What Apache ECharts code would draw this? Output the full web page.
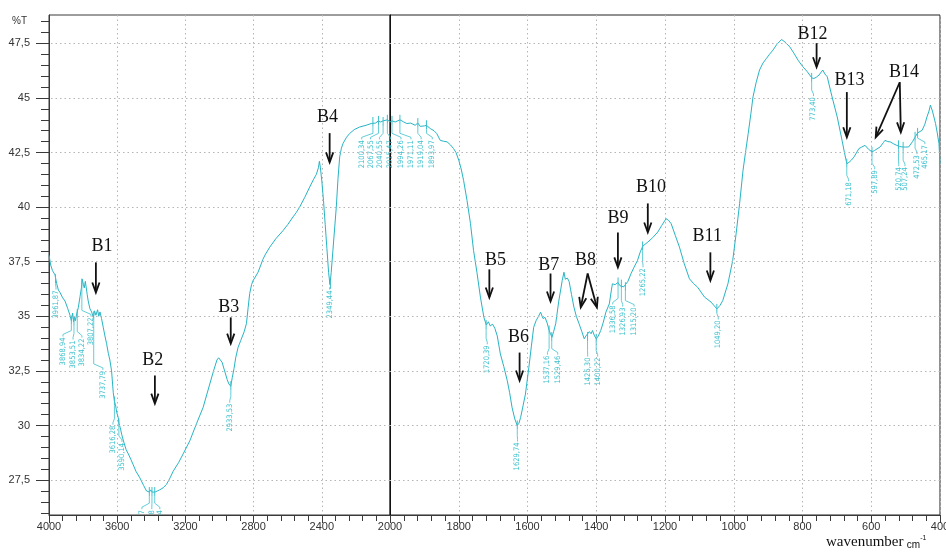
<!DOCTYPE html>
<html><head><meta charset="utf-8">
<script src="https://cdn.jsdelivr.net/npm/echarts@6/dist/echarts.min.js"></script>
<style>html,body{margin:0;padding:0;background:#fff}#c{width:946px;height:552px}</style>
</head><body><div id="c"></div><script>
// ---- spectrum 4000-2000 cm-1 (left panel) ----
const wnLeft = [4000,3990,3980,3965,3955,3945,3936,3920,3906,3890,3877,3869,3861,3856,3850,3845,3838,3828,3818,3810,3805,3798,3793,3787,3783,3776,3770,3760,3750,3740,3733,3725,3715,3708,3701,3692,3682,3672,3662,3652,3643,3633,3623,3616,3610,3603,3594,3590,3582,3574,3560,3548,3535,3520,3506,3490,3467,3445,3428,3411,3404,3395,3385,3378,3365,3351,3330,3311,3290,3272,3240,3213,3174,3135,3096,3057,3035,3015,3005,2995,2985,2970,2955,2945,2934,2925,2915,2905,2891,2875,2855,2842,2832,2823,2812,2803,2790,2774,2760,2746,2730,2705,2670,2627,2600,2569,2550,2530,2500,2471,2450,2432,2420,2414,2408,2400,2390,2380,2370,2360,2352,2345,2335,2325,2315,2305,2295,2285,2276,2255,2237,2210,2178,2140,2110,2100,2085,2068,2055,2041,2030,2015,2000];
const tLeft = [37.8,37.35,37.1,36.9,36.5,36.2,36.1,35.85,35.7,35.35,35.05,34.8,35.15,34.75,34.95,34.8,35.1,35.4,35.9,36.3,36.7,36.45,36.3,36.6,36.55,36.0,35.7,35.35,35.2,34.95,35.25,35.05,35.3,35.0,35.2,34.9,34.5,34.1,33.74,33.3,33.0,32.5,31.5,31.1,30.95,30.6,30.37,30.1,29.9,29.6,29.2,28.9,28.7,28.45,28.2,27.9,27.6,27.25,27.0,26.95,27.05,26.95,27.0,26.95,27.0,27.05,27.15,27.3,27.6,27.9,28.3,28.7,29.3,30.08,30.83,31.9,32.5,33.0,33.1,33.0,32.9,32.5,32.1,31.9,31.8,32.2,32.6,33.1,33.58,33.9,34.3,34.67,35.4,36.04,36.45,36.64,36.8,37.02,37.3,37.6,37.85,38.17,38.55,38.93,39.2,39.55,39.75,40.0,40.45,40.92,41.25,41.5,41.8,42.1,41.8,41.2,40.3,39.2,38.1,37.0,36.45,37.0,38.0,39.0,40.0,41.3,42.3,42.7,42.91,43.2,43.37,43.55,43.67,43.75,43.83,43.9,43.85,43.95,43.9,43.95,43.9,44.0,43.9];
// ---- spectrum 2000-400 cm-1 (right panel) ----
const wnRight = [2000,1994,1985,1971,1960,1951,1940,1927,1919,1912,1900,1894,1883,1872,1864,1854,1845,1834,1824,1815,1808,1800,1793,1786,1776,1766,1757,1747,1737,1727,1720,1714,1708,1702,1695,1688,1679,1669,1659,1652,1645,1637,1630,1625,1620,1613,1606,1596,1589,1582,1575,1568,1562,1555,1549,1543,1537,1533,1529,1524,1518,1509,1499,1494,1490,1484,1479,1472,1465,1458,1450,1442,1435,1430,1426,1420,1415,1411,1405,1400,1394,1387,1380,1372,1362,1356,1353,1345,1337,1331,1327,1320,1315,1308,1299,1290,1280,1272,1265,1258,1250,1236,1221,1210,1197,1190,1182,1170,1158,1144,1129,1117,1105,1085,1066,1049,1040,1032,1017,1003,993,983,973,965,958,950,944,935,925,915,905,896,886,875,861,850,837,825,813,800,786,773,767,760,752,741,735,728,721,714,699,685,678,671,665,658,650,636,628,618,608,598,590,574,565,560,552,545,535,526,518,511,500,491,480,472,465,452,444,438,432,428,422,413,408,403,400];
const tRight = [43.9,43.95,43.9,44.0,43.9,43.83,43.85,43.75,43.85,43.7,43.72,43.75,43.6,43.5,43.37,43.06,43.02,42.99,42.85,42.68,42.5,42.15,41.75,41.23,40.31,39.26,38.02,37.0,35.88,34.96,34.6,34.75,34.55,34.65,34.45,34.1,33.28,32.7,32.06,31.5,30.83,30.3,30.0,30.1,30.37,30.9,31.44,32.67,33.6,34.5,34.8,35.0,35.19,34.9,34.95,34.7,34.35,34.2,34.04,34.3,34.66,35.7,36.64,37.02,36.7,36.75,36.6,36.0,35.42,35.0,34.66,34.3,33.97,34.1,34.05,34.3,34.2,34.35,34.1,33.97,34.1,34.35,34.7,35.19,35.57,36.2,36.49,36.45,36.55,36.4,36.45,36.35,36.33,36.6,36.95,37.25,37.56,37.95,38.2,38.3,38.4,38.6,38.86,39.15,39.47,39.4,39.24,38.7,38.17,37.41,36.72,36.5,36.33,35.88,35.65,35.34,35.5,35.72,36.49,37.56,38.8,40.16,41.69,42.6,43.37,44.3,45.05,45.7,46.28,46.6,46.81,47.0,47.19,47.45,47.68,47.55,47.34,47.05,46.73,46.45,46.2,45.92,45.89,45.95,46.05,46.28,46.1,45.97,45.5,45.05,44.13,43.06,42.5,41.99,42.05,42.15,42.3,42.68,42.75,42.83,42.65,42.53,42.6,42.76,42.95,43.06,43.0,42.99,42.9,42.83,42.78,42.76,42.75,42.76,43.0,43.22,43.4,43.52,43.8,44.13,44.4,44.67,44.4,43.83,43.4,42.91,42.0];

// ---- axes ----
const yMin = 25.9, yMax = 48.8;
const yTickLabels = [27.5,30,32.5,35,37.5,40,42.5,45,47.5];
const yMinorTicks = [26,26.5,27,28,28.5,29,29.5,30.5,31,31.5,32,33,33.5,34,34.5,35.5,36,36.5,37,38,38.5,39,39.5,40.5,41,41.5,42,43,43.5,44,44.5,45.5,46,46.5,47,48,48.5];
const xLeftTicks = [4000,3600,3200,2800,2400,2000];
const xRightTicks = [2000,1800,1600,1400,1200,1000,800,600,400];

// ---- peak picks (wavenumber, %T at the peak, label anchor wavenumber, label top %T) ----
const peakWn   = [3961.87,3868.94,3853.51,3834.22,3807.22,3737.79,3616.28,3590.14,3411.57,3396.08,3379.84,2933.53,2349.44,2100.34,2067.55,2040.55,2015.47,1994.26,1971.11,1919.04,1893.97,1720.39,1629.74,1537.16,1529.46,1425.30,1400.22,1336.58,1326.93,1315.20,1265.22,1049.20,773.40,671.18,597.89,520.74,507.24,472.53,465.17];
const peakT    = [36.7,34.8,34.75,35.1,36.5,35.0,31.1,30.1,26.95,26.95,26.95,31.8,36.45,43.9,43.95,43.9,44.0,43.95,44.0,43.85,43.75,34.6,30.0,34.35,34.04,34.05,33.97,36.55,36.45,36.33,38.2,35.34,45.92,41.99,42.53,42.83,42.76,43.22,43.4];
const peakLblWn= [3959,3918,3859,3807,3754,3684,3625,3572,3455,3397,3350,2940,2354,2166,2114,2061,1997,1968,1939,1909.5,1877,1717,1629,1542,1512,1425,1396,1352,1323,1290,1264,1045,768,666,590,520,502,467,444];
const peakLblT = [36.18,34.03,33.89,33.98,34.95,32.5,29.99,29.2,26.12,26.12,26.12,31.0,36.18,43.06,43.06,43.06,43.06,43.06,43.06,43.06,43.06,33.67,29.22,33.2,33.2,33.11,33.11,35.5,35.4,35.4,37.2,34.81,45.04,41.14,41.69,41.83,41.83,42.38,42.84];

// ---- band annotations ----
const bandName  = ['B1','B2','B3','B4','B5','B6','B7','B8','B9','B10','B11','B12','B13','B14'];
const bandTxtWn = [3689,3391,2946,2366,1693,1626,1538,1431,1337,1241,1077,771,663,505];
const bandTxtT  = [38.2,32.97,35.42,44.12,37.56,34.03,37.33,37.56,39.49,40.91,38.66,47.93,45.82,46.18];
const arrowFromWn = [3725,3379,2934,2354,1711,1623,1533,1425,1425,1337,1250,1068,759,671,517,517];
const arrowFromT  = [37.47,32.29,34.95,43.39,37.15,33.34,36.96,36.96,36.96,38.84,40.17,37.93,47.51,45.27,45.72,45.72];
const arrowToWn   = [3725,3379,2934,2354,1711,1623,1533,1445,1398,1337,1250,1068,759,671,587,514];
const arrowToT    = [36.09,31.0,33.75,42.05,35.86,32.06,35.68,35.41,35.41,37.24,38.84,36.64,46.41,43.2,43.2,43.43];

const LINE = '#27b4c4', PEAKC = '#3cc0cd', AXC = '#3a3a3a';

const zip = (a, b) => a.map((v, i) => [v, b[i]]);
const fmtWn = v => v.toFixed(2).replace('.', ',');

function peakItems(pred) {
  const out = [];
  peakWn.forEach((w, i) => { if (pred(w, i)) out.push([w, peakT[i], peakLblWn[i], peakLblT[i], i]); });
  return out;
}
function renderPeak(params, api) {
  const i = api.value(4);
  const p = api.coord([api.value(0), api.value(1)]);
  const l = api.coord([api.value(2), api.value(3)]);
  const y0 = p[1] + 4;
  const yb = Math.max(y0, l[1] - 7);
  return { type: 'group', children: [
    { type: 'line', shape: { x1: p[0], y1: p[1] - 5, x2: p[0], y2: p[1] + 4 }, style: { stroke: PEAKC, lineWidth: 1 } },
    { type: 'polyline', shape: { points: [[p[0], y0], [p[0], yb], [l[0], l[1] - 3], [l[0], l[1] - 1]] }, style: { stroke: PEAKC, lineWidth: 0.8, fill: null } },
    { type: 'text', x: l[0], y: l[1], rotation: Math.PI / 2,
      style: { text: fmtWn(peakWn[i]), fill: PEAKC, font: '7.5px "Liberation Sans Narrow","DejaVu Sans Condensed","Liberation Sans",sans-serif', align: 'right', verticalAlign: 'middle' } }
  ]};
}
function arrowEl(a, b) {
  const dx = b[0] - a[0], dy = b[1] - a[1];
  const L = Math.hypot(dx, dy) || 1;
  const ux = dx / L, uy = dy / L, nx = -uy, ny = ux;
  const h = 10, w = 3.6;
  return [
    { type: 'line', shape: { x1: a[0], y1: a[1], x2: b[0] - ux * 1, y2: b[1] - uy * 1 }, style: { stroke: '#111', lineWidth: 1.8 } },
    { type: 'polyline', shape: { points: [[b[0] - ux * h + nx * w, b[1] - uy * h + ny * w], [b[0], b[1]], [b[0] - ux * h - nx * w, b[1] - uy * h - ny * w]] }, style: { stroke: '#111', lineWidth: 1.8, fill: null } }
  ];
}
function bandItems(left) {
  const out = [];
  bandName.forEach((n, i) => { if ((bandTxtWn[i] > 2000) === left) out.push([bandTxtWn[i], bandTxtT[i], i]); });
  return out;
}
function renderBand(params, api) {
  const p = api.coord([api.value(0), api.value(1)]);
  return { type: 'text', x: p[0], y: p[1], style: { text: bandName[api.value(2)], fill: '#111', font: '18px "Liberation Serif","DejaVu Serif",serif', align: 'center', verticalAlign: 'middle' } };
}
function arrowItems(left) {
  const out = [];
  arrowFromWn.forEach((w, i) => { if ((w > 2000) === left) out.push([w, arrowFromT[i], arrowToWn[i], arrowToT[i]]); });
  return out;
}
function renderArrow(params, api) {
  const a = api.coord([api.value(0), api.value(1)]);
  const b = api.coord([api.value(2), api.value(3)]);
  return { type: 'group', children: arrowEl(a, b) };
}

const gridLines = yTickLabels.map(v => ({ yAxis: v }));
const mkGridLines = { silent: true, symbol: 'none', label: { show: false }, lineStyle: { color: '#b5b5b5', type: [1.5, 3], width: 1 }, data: gridLines, animation: false };

function xAxisCfg(idx, min, max, interval, hideMin) {
  return {
    type: 'value', gridIndex: idx, min: min, max: max, interval: interval, inverse: true,
    axisLine: { show: true, onZero: false, lineStyle: { color: AXC, width: 1 } },
    axisTick: { show: true, length: 8, lineStyle: { color: AXC } },
    minorTick: { show: true, splitNumber: 5, length: 6, lineStyle: { color: AXC } },
    axisLabel: { margin: 6, color: '#333', fontSize: 11, fontFamily: '"Liberation Sans",Arial,sans-serif', showMinLabel: !hideMin, showMaxLabel: true, formatter: v => String(v) },
    splitLine: { show: true, lineStyle: { color: '#b5b5b5', type: [1.5, 3] } },
    minorSplitLine: { show: false }
  };
}
const yFmt = v => (Math.abs(v - Math.round(v)) < 1e-6 ? String(Math.round(v)) : v.toFixed(1).replace('.', ','));

const option = {
  backgroundColor: '#fff',
  animation: false,
  grid: [
    { left: 49, top: 15, width: 341, height: 500, show: true, borderColor: AXC, borderWidth: 1, backgroundColor: 'transparent', containLabel: false, outerBoundsMode: 'none' },
    { left: 390, top: 15, width: 550, height: 500, show: true, borderColor: '#222', borderWidth: 1, backgroundColor: 'transparent', containLabel: false, outerBoundsMode: 'none' }
  ],
  xAxis: [
    xAxisCfg(0, xLeftTicks[xLeftTicks.length - 1], xLeftTicks[0], 400, true),
    xAxisCfg(1, xRightTicks[xRightTicks.length - 1], xRightTicks[0], 200, false)
  ],
  yAxis: [
    { type: 'value', gridIndex: 0, min: yMin, max: yMax, position: 'left',
      axisLine: { show: true, onZero: false, lineStyle: { color: AXC } },
      axisTick: { show: true, length: 13, lineStyle: { color: AXC }, customValues: yTickLabels },
      axisLabel: { show: true, margin: 19, color: '#333', fontSize: 11, fontFamily: '"Liberation Sans",Arial,sans-serif', customValues: yTickLabels, formatter: yFmt },
      splitLine: { show: false }, minorTick: { show: false } },
    { type: 'value', gridIndex: 1, min: yMin, max: yMax, position: 'left',
      axisLine: { show: true, onZero: false, lineStyle: { color: '#111' } },
      axisTick: { show: false }, axisLabel: { show: false }, splitLine: { show: false } },
    { type: 'value', gridIndex: 0, min: yMin, max: yMax, position: 'left',
      axisLine: { show: false }, axisLabel: { show: false }, splitLine: { show: false },
      axisTick: { show: true, length: 8, lineStyle: { color: AXC }, customValues: yMinorTicks } }
  ],
  series: [
    { type: 'line', xAxisIndex: 0, yAxisIndex: 0, data: zip(wnLeft, tLeft), showSymbol: false, symbol: 'none', lineStyle: { color: LINE, width: 1 }, markLine: mkGridLines, z: 3 },
    { type: 'line', xAxisIndex: 1, yAxisIndex: 1, data: zip(wnRight, tRight), showSymbol: false, symbol: 'none', lineStyle: { color: LINE, width: 1 }, markLine: mkGridLines, z: 3 },
    { type: 'custom', xAxisIndex: 0, yAxisIndex: 0, clip: true, renderItem: renderPeak, data: peakItems((w, i) => w > 2000 && peakT[i] < 27.5), z: 4 },
    { type: 'custom', xAxisIndex: 0, yAxisIndex: 0, clip: false, renderItem: renderPeak, data: peakItems((w, i) => w > 2000 && peakT[i] >= 27.5), z: 4 },
    { type: 'custom', xAxisIndex: 1, yAxisIndex: 1, clip: false, renderItem: renderPeak, data: peakItems(w => w <= 2000), z: 4 },
    { type: 'custom', xAxisIndex: 0, yAxisIndex: 0, clip: false, renderItem: renderBand, data: bandItems(true), z: 5 },
    { type: 'custom', xAxisIndex: 1, yAxisIndex: 1, clip: false, renderItem: renderBand, data: bandItems(false), z: 5 },
    { type: 'custom', xAxisIndex: 0, yAxisIndex: 0, clip: false, renderItem: renderArrow, data: arrowItems(true), z: 5 },
    { type: 'custom', xAxisIndex: 1, yAxisIndex: 1, clip: false, renderItem: renderArrow, data: arrowItems(false), z: 5 }
  ],
  graphic: [
    { type: 'text', left: 12, top: 16, style: { text: '%T', fill: '#333', font: '10px "Liberation Sans",Arial,sans-serif' } },
    { type: 'text', left: 826, top: 535, style: { text: '{w|wavenumber} {c|cm}{s|-1}',
      rich: { w: { font: '15px "Liberation Serif","DejaVu Serif",serif', fill: '#111' },
              c: { font: '10px "Liberation Sans",Arial,sans-serif', fill: '#111', verticalAlign: 'bottom' },
              s: { font: '7px "Liberation Sans",Arial,sans-serif', fill: '#111', verticalAlign: 'top' } } } }
  ]
};
const chart = echarts.init(document.getElementById('c'), null, { renderer: 'canvas' });
chart.setOption(option);
</script></body></html>
